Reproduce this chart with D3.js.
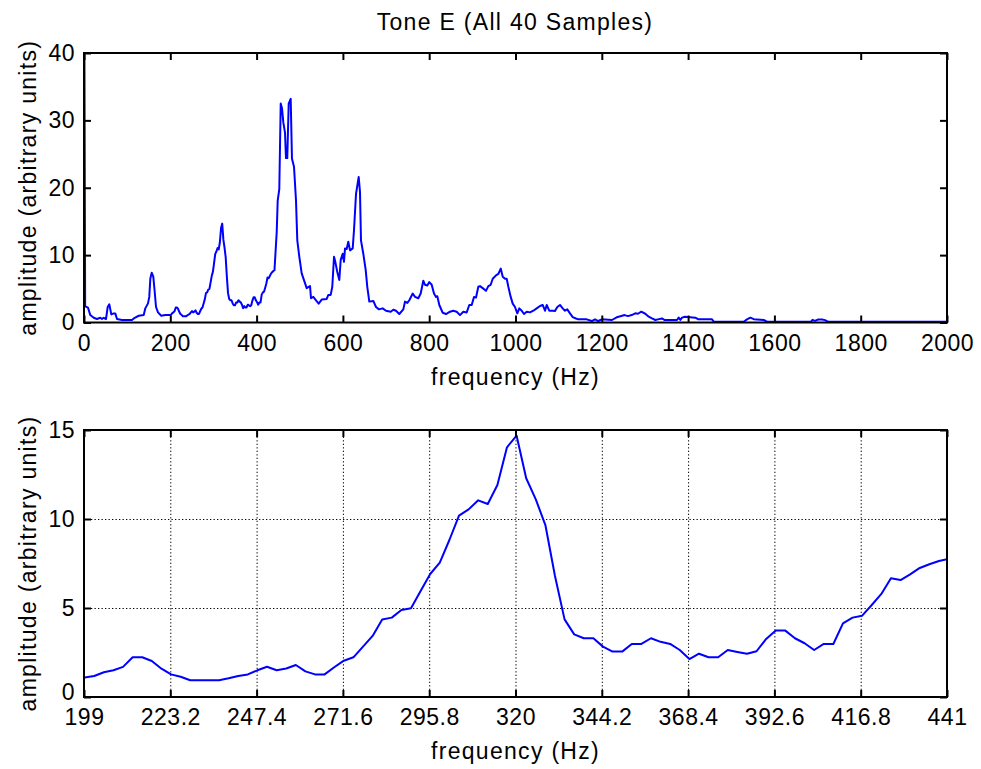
<!DOCTYPE html>
<html><head><meta charset="utf-8">
<script src="https://cdn.jsdelivr.net/npm/d3@7"></script>
<style>
body{margin:0;background:#fff}
svg text{font-family:"Liberation Sans",Arial,Helvetica,sans-serif;fill:#000}
</style>
</head><body>
<svg id="chart" width="981" height="769"></svg>
<script>
// ---------------- data ----------------
const chartTitle = "Tone E (All 40 Samples)";
const xLabelText = "frequency (Hz)";
const yLabelText = "amplitude (arbitrary units)";

const overviewXTicks = [0,200,400,600,800,1000,1200,1400,1600,1800,2000];
const overviewYTicks = [0,10,20,30,40];
const zoomXTicks = [199,223.2,247.4,271.6,295.8,320,344.2,368.4,392.6,416.8,441];
const zoomYTicks = [0,5,10,15];

// spectrum below the zoomed band: [frequency Hz, amplitude]
const spectrumLow = [
  [0,62],[2.69,2.4],[9.3,2.2],[14.6,1.1],[22.5,0.7],[30.1,0.52],[37.8,0.7],[41.7,0.52],
  [45.7,0.7],[51.0,0.52],[54.9,2.3],[58.6,2.7],[63.3,1.2],[68.8,1.35],[72.5,1.35],
  [76.5,0.52],[88.1,0.37],[111.2,0.37],[117.5,0.7],[126.8,1.0],[138.4,1.1],[142.1,2.1],
  [148.3,2.84],[151.3,3.8],[153.7,6.5],[156.9,7.4],[160.6,6.8],[163.8,4.6],[166.9,2.3],
  [171.5,1.5],[179.1,1.0],[188.4,1.1],[196.3,1.1]
];

// zoomed band 199–441 Hz (one value per FFT bin)
const zoomFreqs = [
  199.18,201.87,204.57,207.26,209.95,212.64,215.33,218.02,220.72,223.41,
  226.10,228.79,231.48,234.17,236.87,239.56,242.25,244.94,247.63,250.32,
  253.02,255.71,258.40,261.09,263.78,266.47,269.17,271.86,274.55,277.24,
  279.93,282.62,285.31,288.01,290.70,293.39,296.08,298.77,301.46,304.16,
  306.85,309.54,312.23,314.92,317.61,320.31,323.00,325.69,328.38,331.07,
  333.76,336.46,339.15,341.84,344.53,347.22,349.91,352.61,355.30,357.99,
  360.68,363.37,366.06,368.76,371.45,374.14,376.83,379.52,382.21,384.91,
  387.60,390.29,392.98,395.67,398.36,401.06,403.75,406.44,409.13,411.82,
  414.51,417.21,419.90,422.59,425.28,427.97,430.66,433.36,436.05,438.74,
  441.43
];
const zoomAmps = [
  1.10,1.18,1.39,1.50,1.69,2.23,2.23,2.02,1.59,1.27,
  1.14,0.94,0.94,0.94,0.94,1.05,1.18,1.27,1.50,1.70,
  1.50,1.60,1.80,1.44,1.27,1.27,1.67,2.04,2.23,2.83,
  3.43,4.36,4.46,4.89,4.98,5.96,6.91,7.55,8.82,10.19,
  10.54,11.05,10.84,11.91,14.03,14.68,12.29,11.10,9.66,6.80,
  4.36,3.52,3.30,3.30,2.83,2.55,2.55,2.98,2.98,3.30,
  3.10,2.98,2.64,2.13,2.43,2.23,2.23,2.64,2.53,2.43,
  2.57,3.26,3.73,3.73,3.30,3.02,2.64,2.98,2.98,4.14,
  4.46,4.57,5.17,5.79,6.67,6.57,6.89,7.25,7.46,7.64,
  7.76
];

// spectrum above the zoomed band: [frequency Hz, amplitude]
const spectrumHigh = [
  [446.6,13.4],[448.9,18.1],[452.6,19.8],[455.9,32.5],[458.9,31.8],[461.9,29.7],[465.8,28.2],
  [468.1,24.4],[471.1,24.4],[474.4,32.5],[479.0,33.2],[482.0,24.3],[486.7,23.1],[491.3,18.1],
  [494.3,12.2],[499.0,9.75],[504.5,7.3],[509.8,6.3],[516.1,5.1],[523.8,5.4],[526.1,3.6],
  [531.4,3.8],[537.7,3.3],[543.9,2.8],[550.9,3.4],[562.5,3.5],[566.2,4.1],[571.7,4.1],
  [575.4,5.3],[579.4,9.75],[582.4,9.0],[587.0,7.5],[591.7,6.3],[594.9,9.3],[599.5,10.2],
  [602.5,9.0],[604.9,11.0],[608.8,10.9],[612.5,12.0],[616.5,10.7],[622.7,11.0],[625.7,13.7],
  [630.4,19.1],[636.6,21.6],[639.6,19.4],[641.9,12.2],[647.3,10.2],[652.8,7.8],[656.5,5.3],
  [661.2,3.1],[670.5,3.2],[676.7,2.3],[683.7,1.95],[692.2,2.1],[699.9,1.75],[710.8,1.6],
  [716.9,1.9],[723.1,1.75],[730.7,1.26],[740.0,1.95],[743.9,3.1],[749.3,2.9],[753.9,3.3],
  [761.8,4.3],[767.1,3.8],[774.8,3.6],[780.3,4.3],[786.3,6.2],[790.3,5.6],[795.6,5.5],
  [800.2,6.0],[805.8,5.6],[811.1,4.3],[815.8,3.8],[818.8,3.9],[823.4,2.6],[831.3,1.45],
  [838.9,1.26],[848.2,1.6],[855.8,1.75],[863.7,1.6],[871.4,1.1],[879.0,1.6],[886.9,1.5],
  [892.9,2.6],[898.5,2.6],[903.8,3.8],[908.5,3.7],[913.8,5.3],[917.7,5.4],[924.0,5.1],
  [931.6,4.7],[937.0,5.4],[942.5,5.6],[947.2,6.5],[954.8,7.0],[960.2,7.2],[965.8,8.0],
  [970.4,6.8],[975.7,6.5],[979.6,6.5],[983.4,5.3],[988.9,3.8],[993.5,2.8],[998.8,2.3],
  [1004.2,1.35],[1008.8,2.1],[1014.4,1.75],[1019.7,1.26],[1026.0,1.6],[1033.6,1.5],
  [1041.3,1.75],[1049.1,2.1],[1056.8,2.45],[1063.0,2.6],[1068.4,1.75],[1072.3,2.6],
  [1078.3,1.75],[1086.2,1.75],[1091.5,1.7],[1096.9,2.3],[1103.1,2.6],[1109.4,2.1],
  [1114.7,1.75],[1120.0,1.95],[1126.3,1.35],[1132.6,0.8],[1140.2,0.6],[1145.5,0.47],
  [1165.0,0.47],[1176.6,0.22],[1184.2,0.47],[1191.9,0.22],[1199.8,0.47],[1223.6,0.37],
  [1234.5,0.77],[1239.1,0.86],[1253.0,1.1],[1260.7,0.95],[1269.2,1.1],[1277.6,1.36],
  [1283.9,1.3],[1291.5,1.6],[1300.8,1.3],[1308.7,0.86],[1316.3,0.6],[1324.0,0.37],
  [1332.6,0.5],[1339.5,0.6],[1345.8,0.37],[1374.3,0.37],[1378.2,0.72],[1382.0,0.37],
  [1385.9,0.72],[1392.8,0.86],[1416.7,0.72],[1423.0,0.5],[1455.4,0.47],[1459.3,0.12],
  [1528.9,0.12],[1536.5,0.47],[1544.2,0.72],[1552.1,0.5],[1575.2,0.37],[1582.9,0.12],
  [1684.8,0.12],[1688.3,0.4],[1694.1,0.25],[1701.7,0.45],[1710.3,0.45],[1717.3,0.35],
  [1724.2,0.12],[2000,0.12]
];

// ---------------- drawing ----------------
const svg = d3.select("#chart");
const FS = 23;          // font size
const LS_LABEL = 1.3;   // letter spacing for titles / axis labels
const LS_TICK = 0.5;    // letter spacing for tick labels
const zoomPts = zoomFreqs.map((f,i)=>[f, zoomAmps[i]]);
const fullSpectrum = spectrumLow.concat(zoomPts, spectrumHigh);

function panel(opts){
  const {left,right,top,bottom,xDomain,yDomain,xTicks,yTicks,data,grid,id,zeroDy} = opts;
  const x = d3.scaleLinear().domain(xDomain).range([left,right]);
  const y = d3.scaleLinear().domain(yDomain).range([bottom,top]);
  const g = svg.append("g");

  g.append("clipPath").attr("id",id).append("rect")
    .attr("x",left).attr("y",top).attr("width",right-left).attr("height",bottom-top);

  if(grid){
    g.append("g").attr("transform",`translate(0,${bottom})`)
      .call(d3.axisBottom(x).tickValues(xTicks.slice(1,-1)).tickSize(-(bottom-top)).tickFormat(""))
      .call(s=>{s.select(".domain").remove();
        s.selectAll("line").attr("stroke","#000").attr("stroke-width",1).attr("stroke-dasharray","1.3,2.2");});
    g.append("g").attr("transform",`translate(${left},0)`)
      .call(d3.axisLeft(y).tickValues(yTicks.slice(1,-1)).tickSize(-(right-left)).tickFormat(""))
      .call(s=>{s.select(".domain").remove();
        s.selectAll("line").attr("stroke","#000").attr("stroke-width",1).attr("stroke-dasharray","1.3,2.2");});
  }

  const line = d3.line().x(d=>x(d[0])).y(d=>y(d[1]));
  g.append("path").datum(data.filter(d=>d[0]>=xDomain[0]-5 && d[0]<=xDomain[1]+5))
    .attr("clip-path",`url(#${id})`)
    .attr("fill","none").attr("stroke","#0000ff").attr("stroke-width",2)
    .attr("stroke-linejoin","round").attr("d",line);

  const styleAxis = s=>{
    s.select(".domain").remove();
    s.selectAll("line").attr("stroke","#000").attr("stroke-width",2);
    s.selectAll("text").attr("font-size",FS).attr("font-family",null).attr("fill","#000")
      .attr("letter-spacing",LS_TICK);
  };
  // bottom axis with labels
  g.append("g").attr("transform",`translate(0,${bottom})`)
    .call(d3.axisBottom(x).tickValues(xTicks).tickSizeInner(-7).tickSizeOuter(0).tickPadding(12)
      .tickFormat(d=>String(d)))
    .call(styleAxis);
  // top mirrored ticks
  g.append("g").attr("transform",`translate(0,${top})`)
    .call(d3.axisTop(x).tickValues(xTicks).tickSizeInner(-7).tickSizeOuter(0).tickFormat(""))
    .call(styleAxis);
  // left axis with labels
  g.append("g").attr("transform",`translate(${left},0)`)
    .call(d3.axisLeft(y).tickValues(yTicks).tickSizeInner(-7).tickSizeOuter(0).tickPadding(9)
      .tickFormat(d=>String(d)))
    .call(styleAxis)
    .call(s=>{ if(zeroDy) s.selectAll(".tick").filter(d=>d===yDomain[0]).select("text").attr("dy",zeroDy); });
  // right mirrored ticks
  g.append("g").attr("transform",`translate(${right},0)`)
    .call(d3.axisRight(y).tickValues(yTicks).tickSizeInner(-7).tickSizeOuter(0).tickFormat(""))
    .call(styleAxis);

  g.append("rect").attr("x",left).attr("y",top).attr("width",right-left).attr("height",bottom-top)
    .attr("fill","none").attr("stroke","#000").attr("stroke-width",2);

  g.append("text").attr("x",(left+right)/2).attr("y",bottom+62)
    .attr("text-anchor","middle").attr("font-size",FS).attr("letter-spacing",LS_LABEL).text(xLabelText);
  g.append("text").attr("transform",`translate(36,${(top+bottom)/2}) rotate(-90)`)
    .attr("text-anchor","middle").attr("font-size",FS).attr("letter-spacing",LS_LABEL).text(yLabelText);
  return {x,y};
}

svg.append("text").attr("x",515).attr("y",30).attr("text-anchor","middle")
  .attr("font-size",FS).attr("letter-spacing",LS_LABEL).text(chartTitle);

panel({id:"clipTop",left:84,right:947,top:53,bottom:322.5,
  xDomain:[0,2000],yDomain:[0,40],xTicks:overviewXTicks,yTicks:overviewYTicks,
  data:fullSpectrum,grid:false,zeroDy:null});

panel({id:"clipBot",left:84,right:947,top:430,bottom:697,
  xDomain:[199,441],yDomain:[0,15],xTicks:zoomXTicks,yTicks:zoomYTicks,
  data:fullSpectrum,grid:true,zeroDy:"0.1em"});
</script>
</body></html>
